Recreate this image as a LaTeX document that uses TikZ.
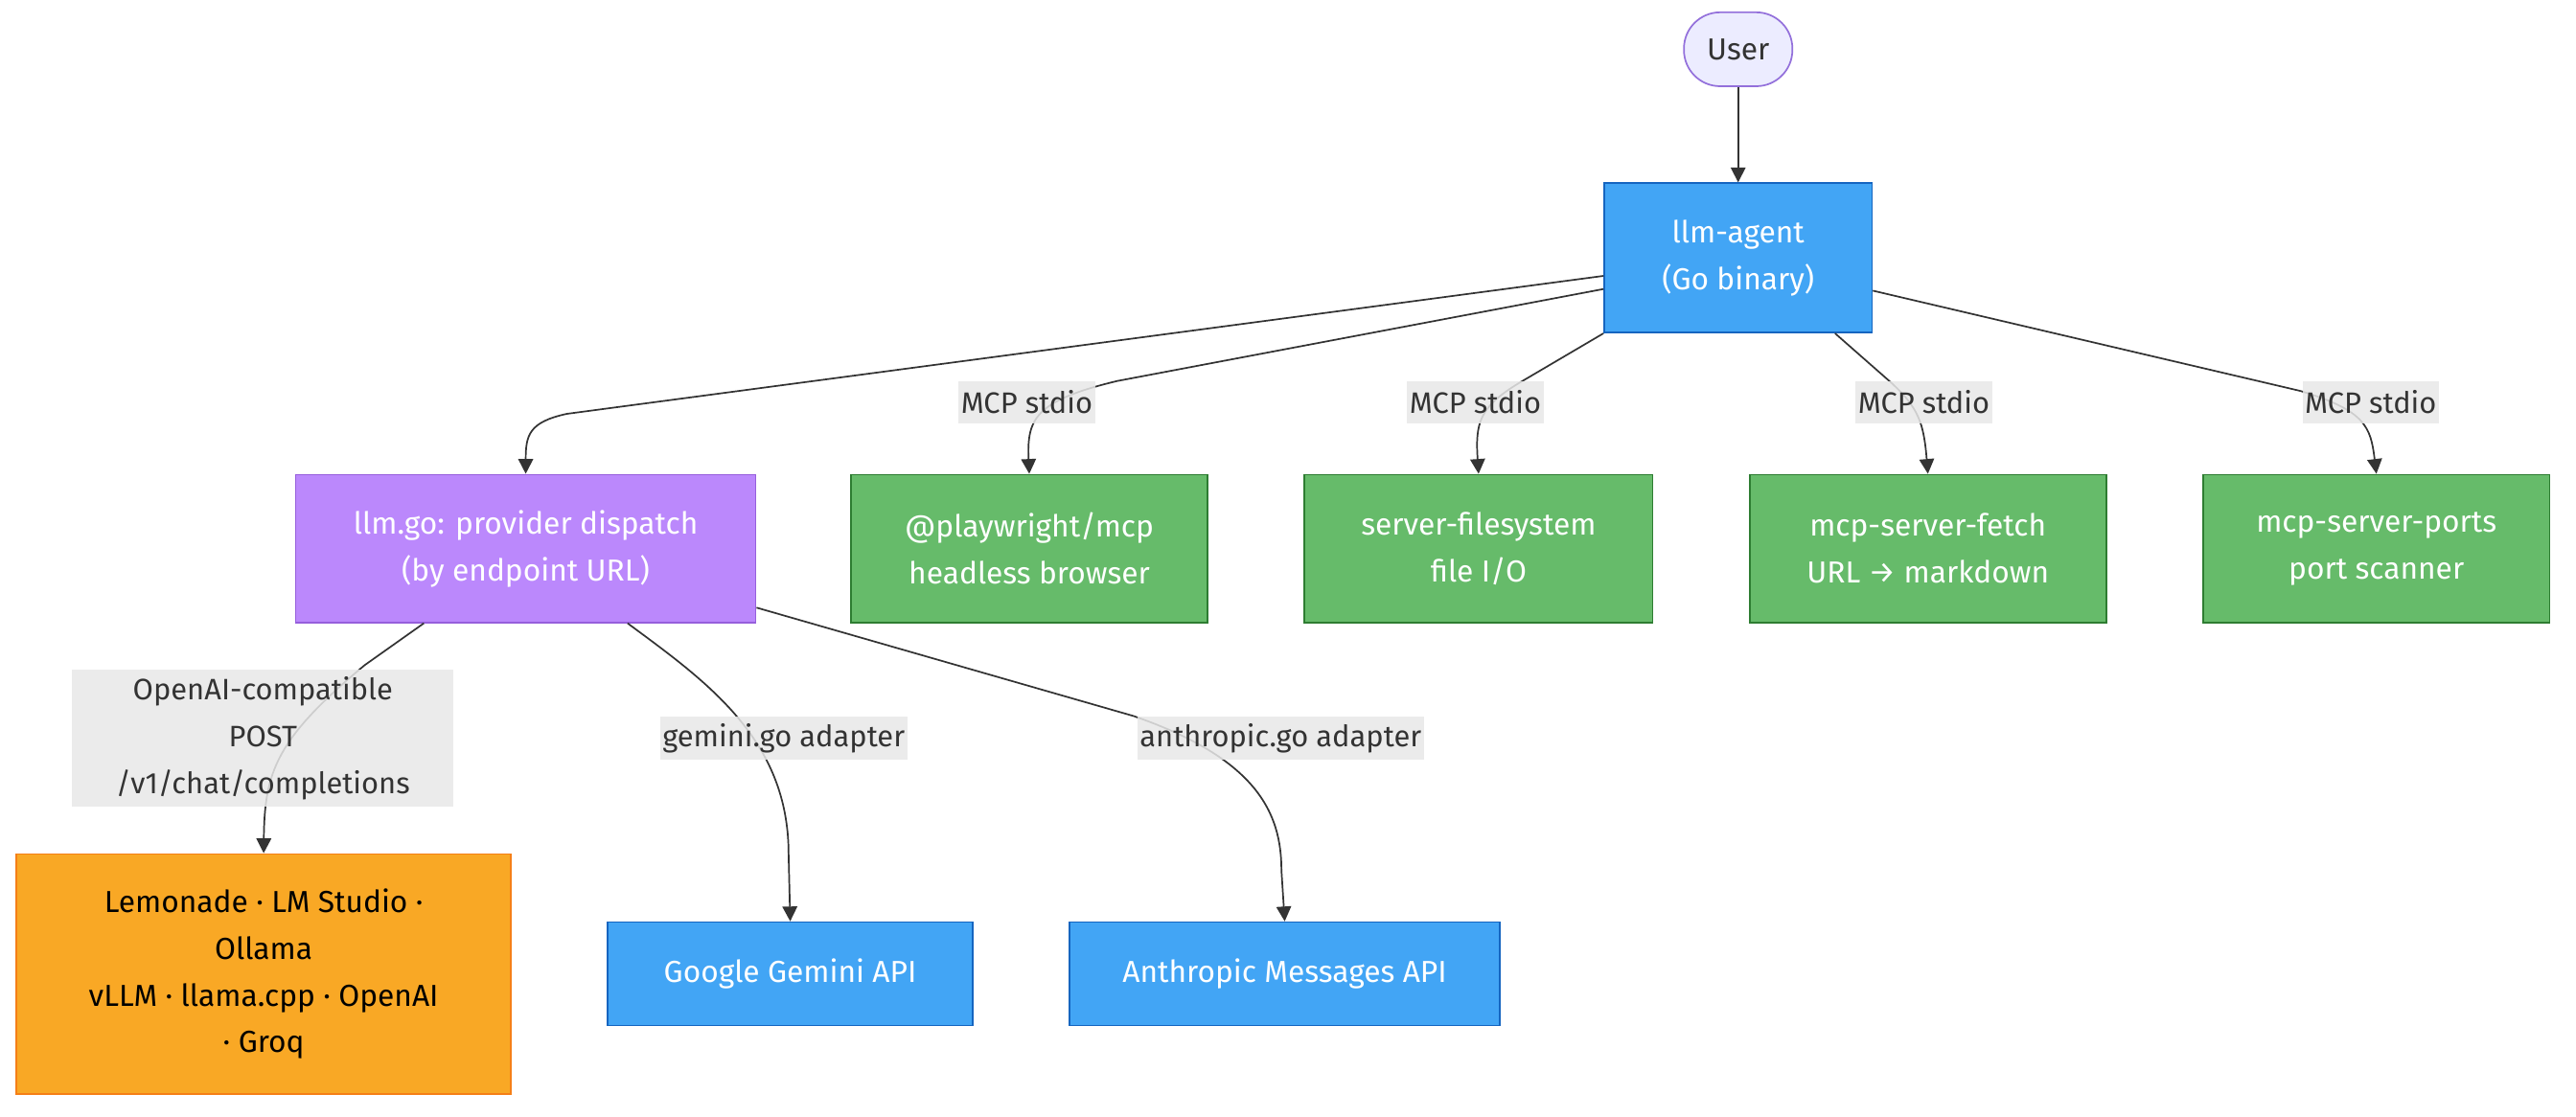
\documentclass[tikz,border=0pt]{standalone}
\usepackage{fontspec}
\setmainfont{Fira Sans}
\usetikzlibrary{arrows.meta,positioning}
\definecolor{AgentBlue}{RGB}{66,165,245}
\definecolor{AgentBorder}{RGB}{21,101,192}
\definecolor{DispatchPurple}{RGB}{187,136,252}
\definecolor{DispatchBorder}{RGB}{150,95,220}
\definecolor{ToolGreen}{RGB}{102,187,106}
\definecolor{ToolBorder}{RGB}{46,125,50}
\definecolor{LocalOrange}{RGB}{249,168,37}
\definecolor{LocalBorder}{RGB}{245,127,23}
\definecolor{UserFill}{RGB}{236,236,255}
\definecolor{UserBorder}{RGB}{147,112,219}
\definecolor{EdgeGray}{RGB}{51,51,51}
\definecolor{LabelGray}{RGB}{232,232,232}

\begin{document}
\begin{tikzpicture}[x=1pt,y=-1pt,node distance=58pt,>={Triangle[length=9pt,width=9pt]}]
\tikzstyle{box}=[draw,line width=1pt,align=center,inner sep=0pt,minimum height=90pt,font=\fontsize{18.5}{28.5}\selectfont]
\tikzstyle{tool}=[box,draw=ToolBorder,fill=ToolGreen,text=white]
\tikzstyle{api}=[box,draw=AgentBorder,fill=AgentBlue,text=white,minimum height=63pt]
\tikzstyle{edgelabel}=[fill=LabelGray,fill opacity=0.85,text opacity=1,text=EdgeGray,align=center,inner xsep=1.5pt,inner ysep=0pt,minimum height=26pt,font=\fontsize{18}{28.5}\selectfont]
\tikzstyle{link}=[->,line width=1pt,EdgeGray]
\useasboundingbox (0,0) rectangle (1568,680);
% agent and user
\node[box,draw=AgentBorder,fill=AgentBlue,text=white,minimum width=163pt,minimum height=91pt] (agent) at (1058,157) {llm-agent\\(Go binary)};
\node[box,draw=UserBorder,fill=UserFill,text=EdgeGray,minimum width=66pt,minimum height=45pt,rounded corners=22pt,above=of agent] (user) {User};
% middle row
\node[box,draw=DispatchBorder,fill=DispatchPurple,text=white,minimum width=280pt] (dispatch) at (320,334) {llm.go: provider dispatch\\(by endpoint URL)};
\node[tool,minimum width=217pt,right=57pt of dispatch] (playwright) {@playwright/mcp\\headless browser};
\node[tool,minimum width=212pt,right=of playwright] (filesys) {server-filesystem\\file I/O};
\node[tool,minimum width=217pt,right=of filesys] (fetch) {mcp-server-fetch\\URL → markdown};
\node[tool,minimum width=211pt,right=of fetch] (ports) {mcp-server-ports\\port scanner};
% bottom row
\node[box,draw=LocalBorder,fill=LocalOrange,text=black,minimum width=301pt,minimum height=146pt] (local) at (160.5,593) {Lemonade · LM Studio ·\\Ollama\\vLLM · llama.cpp · OpenAI\\· Groq};
\node[api,minimum width=222pt,right=of local] (gemini) {Google Gemini API};
\node[api,minimum width=262pt,right=of gemini] (anthropic) {Anthropic Messages API};
% connectors
\draw[link] (user) -- (agent);
\draw[link] ([yshift=-11pt]agent.west) -- (345,252) .. controls (322,257) and (320,265) .. (dispatch.north);
\draw[link] ([yshift=-19pt]agent.west) -- (680,232) .. controls (630,244) and (625,255) .. (playwright.north);
\draw[link] (agent.south west) -- (925,233) .. controls (900,248) and (898,258) .. (filesys.north);
\draw[link] ([xshift=-23pt]agent.south east) -- (1150,232) .. controls (1168,248) and (1171,258) .. (fetch.north);
\draw[link] ([yshift=-20pt]agent.east) -- (1400,238) .. controls (1440,250) and (1443,260) .. (ports.north);
\draw[link] ([xshift=-62pt]dispatch.south) -- (222,405) .. controls (168,450) and (161,470) .. (local.north);
\draw[link] ([xshift=62pt]dispatch.south) .. controls (430,415) and (480,450) .. (480,520) -- (gemini.north);
\draw[link] ([yshift=-36pt]dispatch.east) -- (690,436) .. controls (765,462) and (780,495) .. (780,530) -- (anthropic.north);
% edge labels
\node[edgelabel] (mcp1) at (625,245) {MCP stdio};
\node[edgelabel] (mcp2) at (898,245) {MCP stdio};
\node[edgelabel] (mcp3) at (1171,245) {MCP stdio};
\node[edgelabel] (mcp4) at (1443,245) {MCP stdio};
\node[edgelabel,minimum width=232pt,minimum height=83pt] (openai) at (160,449.5) {OpenAI-compatible\\POST\\/v1/chat/completions};
\node[edgelabel] (geminilbl) at (477,449.5) {gemini.go adapter};
\node[edgelabel] (anthlbl) at (779.5,449.5) {anthropic.go adapter};
\end{tikzpicture}
\end{document}
